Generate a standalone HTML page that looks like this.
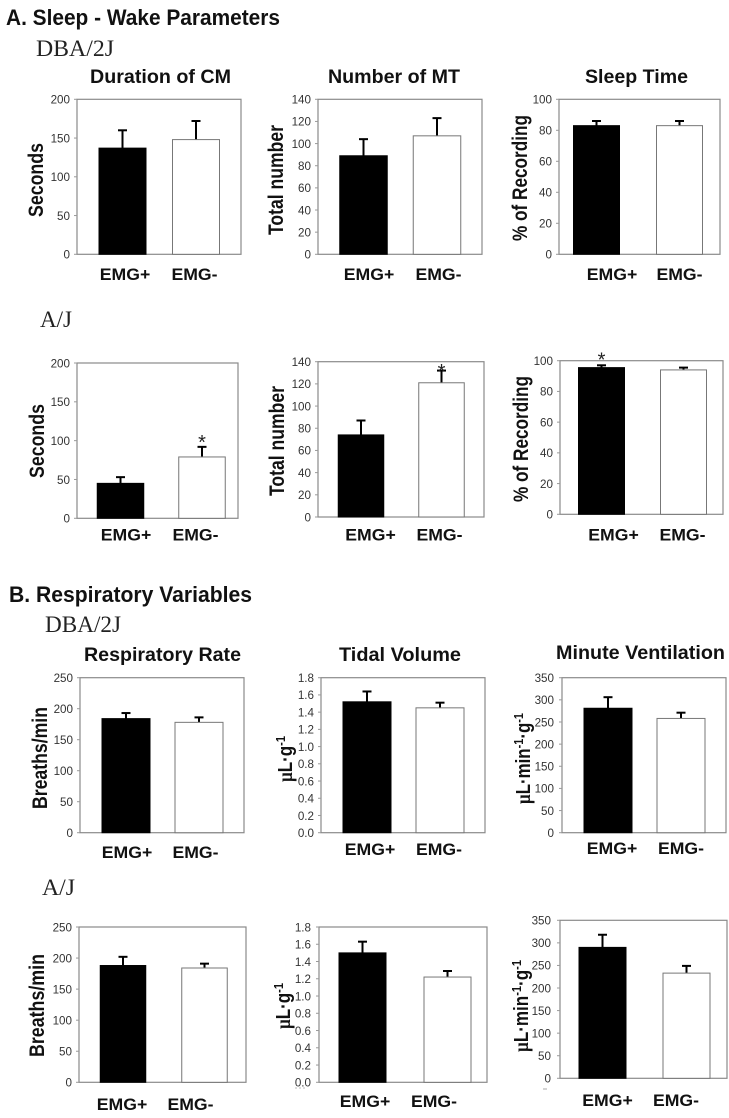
<!DOCTYPE html>
<html lang="en">
<head>
<meta charset="utf-8">
<title>Sleep-Wake Parameters and Respiratory Variables</title>
<style>
html,body{margin:0;padding:0;background:#fff;}
svg{display:block;filter:blur(.3px);}
.sec{font:bold 22px "Liberation Sans",sans-serif;fill:#111;}
.strain{font:23px "Liberation Serif",serif;fill:#222;}
.ttl{font:bold 19.5px "Liberation Sans",sans-serif;fill:#111;}
.yt{font:bold 21px "Liberation Sans",sans-serif;fill:#111;}
.yu{font:bold 20px "Liberation Sans",sans-serif;fill:#111;}
.mu{font-family:"Liberation Serif",serif;font-weight:bold;}
.sup{font-size:13px;}
.tick{font:12px "Liberation Sans",sans-serif;fill:#333;}
.cat{font:bold 16.5px "Liberation Sans",sans-serif;fill:#111;}
.star{font:20px "Liberation Sans",sans-serif;fill:#222;}
</style>
</head>
<body>
<svg id="figure" xmlns="http://www.w3.org/2000/svg" width="729" height="1118" viewBox="0 0 729 1118">
  <rect width="729" height="1118" fill="#fff"/>

  <text class="sec" x="6" y="25" textLength="274" lengthAdjust="spacingAndGlyphs">A. Sleep - Wake Parameters</text>
  <text class="strain" x="36" y="56" textLength="78" lengthAdjust="spacingAndGlyphs">DBA/2J</text>
  <text class="strain" x="40" y="327" textLength="32" lengthAdjust="spacingAndGlyphs">A/J</text>
  <text class="sec" x="9" y="602" textLength="243" lengthAdjust="spacingAndGlyphs">B. Respiratory Variables</text>
  <text class="strain" x="45" y="632" textLength="76" lengthAdjust="spacingAndGlyphs">DBA/2J</text>
  <text class="strain" x="42" y="895" textLength="33" lengthAdjust="spacingAndGlyphs">A/J</text>

  <g id="p1">
    <text class="ttl" x="90" y="83" textLength="141" lengthAdjust="spacingAndGlyphs">Duration of CM</text>
    <text class="yt" transform="translate(43,217) rotate(-90)" textLength="74" lengthAdjust="spacingAndGlyphs">Seconds</text>
  </g>
  <g id="p2">
    <text class="ttl" x="328" y="83" textLength="132" lengthAdjust="spacingAndGlyphs">Number of MT</text>
    <text class="yt" transform="translate(283,235) rotate(-90)" textLength="110" lengthAdjust="spacingAndGlyphs">Total number</text>
  </g>
  <g id="p3">
    <text class="ttl" x="585" y="83" textLength="103" lengthAdjust="spacingAndGlyphs">Sleep Time</text>
    <text class="yt" transform="translate(527,241) rotate(-90)" textLength="126" lengthAdjust="spacingAndGlyphs">% of Recording</text>
  </g>
  <g id="p4">
    <text class="yt" transform="translate(44,478) rotate(-90)" textLength="74" lengthAdjust="spacingAndGlyphs">Seconds</text>
  </g>
  <g id="p5">
    <text class="yt" transform="translate(284,496) rotate(-90)" textLength="110" lengthAdjust="spacingAndGlyphs">Total number</text>
  </g>
  <g id="p6">
    <text class="yt" transform="translate(528,502) rotate(-90)" textLength="126" lengthAdjust="spacingAndGlyphs">% of Recording</text>
  </g>
  <g id="p7">
    <text class="ttl" x="84" y="661" textLength="157" lengthAdjust="spacingAndGlyphs">Respiratory Rate</text>
    <text class="yt" transform="translate(47,809) rotate(-90)" textLength="102" lengthAdjust="spacingAndGlyphs">Breaths/min</text>
  </g>
  <g id="p8">
    <text class="ttl" x="339" y="661" textLength="122" lengthAdjust="spacingAndGlyphs">Tidal Volume</text>
    <text class="yu" transform="translate(292,782) rotate(-90)" textLength="46" lengthAdjust="spacingAndGlyphs"><tspan class="mu">µ</tspan>L·g<tspan class="sup" dy="-7">-1</tspan></text>
  </g>
  <g id="p9">
    <text class="ttl" x="556" y="659" textLength="169" lengthAdjust="spacingAndGlyphs">Minute Ventilation</text>
    <text class="yu" transform="translate(530,804) rotate(-90)" textLength="91" lengthAdjust="spacingAndGlyphs"><tspan class="mu">µ</tspan>L·min<tspan class="sup" dy="-7">-1</tspan><tspan dy="7">·g</tspan><tspan class="sup" dy="-7">-1</tspan></text>
  </g>
  <g id="p10">
    <text class="yt" transform="translate(44,1057) rotate(-90)" textLength="103" lengthAdjust="spacingAndGlyphs">Breaths/min</text>
  </g>
  <g id="p11">
    <text class="yu" transform="translate(290,1029) rotate(-90)" textLength="46" lengthAdjust="spacingAndGlyphs"><tspan class="mu">µ</tspan>L·g<tspan class="sup" dy="-7">-1</tspan></text>
    <line x1="295" x2="307" y1="1088" y2="1088" stroke="#bbb" stroke-width="1" stroke-dasharray="2 2"/>
  </g>
  <g id="p12">
    <text class="yu" transform="translate(528,1052) rotate(-90)" textLength="92" lengthAdjust="spacingAndGlyphs"><tspan class="mu">µ</tspan>L·min<tspan class="sup" dy="-7">-1</tspan><tspan dy="7">·g</tspan><tspan class="sup" dy="-7">-1</tspan></text>
    <line x1="543" x2="547" y1="1089" y2="1089" stroke="#aaa" stroke-width="1"/>
  </g>
</svg>

<script>
// ---- data ----
const categories = ["EMG+", "EMG-"];

const ticksSeconds = ["0", "50", "100", "150", "200"];
const ticksCount = ["0", "20", "40", "60", "80", "100", "120", "140"];
const ticksPercent = ["0", "20", "40", "60", "80", "100"];
const ticksRate = ["0", "50", "100", "150", "200", "250"];
const ticksTidal = ["0.0", "0.2", "0.4", "0.6", "0.8", "1.0", "1.2", "1.4", "1.6", "1.8"];
const ticksVent = ["0", "50", "100", "150", "200", "250", "300", "350"];

const durationDbaMeans = [137, 148];
const durationDbaErrTops = [160, 172];
const mtDbaMeans = [89, 107];
const mtDbaErrTops = [104, 123];
const sleepDbaMeans = [83, 83];
const sleepDbaErrTops = [86, 86];

const durationAjMeans = [45, 79];
const durationAjErrTops = [53, 92];
const mtAjMeans = [74, 121];
const mtAjErrTops = [87, 132];
const sleepAjMeans = [95.5, 94];
const sleepAjErrTops = [97, 95.5];

const rateDbaMeans = [184, 178];
const rateDbaErrTops = [193, 186];
const tidalDbaMeans = [1.52, 1.45];
const tidalDbaErrTops = [1.64, 1.51];
const ventDbaMeans = [281, 258];
const ventDbaErrTops = [306, 271];

const rateAjMeans = [188, 184];
const rateAjErrTops = [202, 191];
const tidalAjMeans = [1.5, 1.22];
const tidalAjErrTops = [1.63, 1.29];
const ventAjMeans = [290, 233];
const ventAjErrTops = [318, 249];

// ---- drawing ----
const NS = "http://www.w3.org/2000/svg";

function mk(parent, tag, attrs) {
  const el = document.createElementNS(NS, tag);
  for (const k in attrs) el.setAttribute(k, attrs[k]);
  parent.appendChild(el);
  return el;
}

function drawPanel(id, means, errTops, ticks, box) {
  const g = document.getElementById(id);
  const yMax = parseFloat(ticks[ticks.length - 1]);
  const yScale = v => box.bottom - (v / yMax) * (box.bottom - box.top);
  const barCenter = i => box.barFirst + i * box.barStep;
  const labelCenter = i => box.labelFirst + i * box.labelStep;
  const tickGap = box.tickGap || 7;

  const frame = mk(g, "rect", {x: box.left, y: box.top, width: box.right - box.left, height: box.bottom - box.top, fill: "#fff", stroke: "#8a8a8a", "stroke-width": 1.2});
  
  

  ticks.forEach(t => {
    const y = yScale(parseFloat(t));
    const mark = mk(g, "line", {x1: box.left - 3, x2: box.left, y1: y, y2: y, stroke: "#999", "stroke-width": 1});
    
    
    const label = mk(g, "text", {class: "tick", "text-anchor": "end", transform: "translate(" + (box.left - tickGap) + "," + (y + 4.3) + ") scale(.97,1)"});
    
    
    label.textContent = t;
  });

  categories.forEach((c, i) => {
    const cx = barCenter(i);
    const yTop = yScale(means[i]);
    const yErr = yScale(errTops[i]);
    const filled = i === 0;

    const stem = mk(g, "line", {x1: cx, x2: cx, y1: yTop, y2: yErr, stroke: "#000", "stroke-width": 2});
    
    
    const cap = mk(g, "line", {x1: cx - 4.5, x2: cx + 4.5, y1: yErr, y2: yErr, stroke: "#000", "stroke-width": 2});
    
    

    const bar = mk(g, "rect", {
      x: cx - box.barW / 2, y: yTop, width: box.barW, height: box.bottom - yTop,
      fill: filled ? "#000" : "#fff",
      stroke: filled ? "#000" : "#777",
      "stroke-width": 1
    });
    
    

    const label = mk(g, "text", {class: "cat", "text-anchor": "middle", transform: "translate(" + labelCenter(i) + "," + box.labelY + ") scale(1.07,1)"});
    
    
    label.textContent = c;

    if (box.star && box.star.index === i) {
      const star = mk(g, "text", {class: "star", "text-anchor": "middle", x: cx, y: yErr - box.star.gap + 11});
      
      
      star.textContent = "*";
    }
  });
}

drawPanel("p1", durationDbaMeans, durationDbaErrTops, ticksSeconds, {left: 77, right: 241, top: 99.3, bottom: 254.3, barFirst: 122.5, barStep: 73.5, barW: 47, labelFirst: 125, labelStep: 69.5, labelY: 280});
drawPanel("p2", mtDbaMeans, mtDbaErrTops, ticksCount, {left: 318, right: 482, top: 99.3, bottom: 254.3, barFirst: 363.5, barStep: 73.5, barW: 47.5, labelFirst: 369, labelStep: 69.5, labelY: 280});
drawPanel("p3", sleepDbaMeans, sleepDbaErrTops, ticksPercent, {left: 559, right: 720, top: 99.3, bottom: 254.3, barFirst: 596.5, barStep: 83, barW: 46, labelFirst: 612, labelStep: 67.5, labelY: 280});

drawPanel("p4", durationAjMeans, durationAjErrTops, ticksSeconds, {left: 77, right: 238, top: 363, bottom: 518.3, barFirst: 120.5, barStep: 81.5, barW: 46.5, labelFirst: 126, labelStep: 69.5, labelY: 540.7, star: {index: 1, gap: 9}});
drawPanel("p5", mtAjMeans, mtAjErrTops, ticksCount, {left: 318, right: 484, top: 361.7, bottom: 517, barFirst: 361, barStep: 80.5, barW: 45.5, labelFirst: 370.5, labelStep: 69, labelY: 540.7, star: {index: 1, gap: 3.5}});
drawPanel("p6", sleepAjMeans, sleepAjErrTops, ticksPercent, {left: 560, right: 723, top: 360.7, bottom: 514.3, barFirst: 601.5, barStep: 82, barW: 46, labelFirst: 613.5, labelStep: 69, labelY: 540.7, star: {index: 0, gap: 10}});

drawPanel("p7", rateDbaMeans, rateDbaErrTops, ticksRate, {left: 80, right: 244, top: 677.7, bottom: 832.7, barFirst: 126, barStep: 73, barW: 48, labelFirst: 127, labelStep: 68.5, labelY: 858});
drawPanel("p8", tidalDbaMeans, tidalDbaErrTops, ticksTidal, {left: 321, right: 485, top: 677.7, bottom: 832.7, barFirst: 367, barStep: 73, barW: 48, labelFirst: 370, labelStep: 69, labelY: 855});
drawPanel("p9", ventDbaMeans, ventDbaErrTops, ticksVent, {left: 562, right: 726, top: 677.7, bottom: 832.7, barFirst: 608, barStep: 73, barW: 48, labelFirst: 612, labelStep: 69, labelY: 854, tickGap: 8});

drawPanel("p10", rateAjMeans, rateAjErrTops, ticksRate, {left: 79, right: 246, top: 927, bottom: 1082.3, barFirst: 123, barStep: 81.5, barW: 45.5, labelFirst: 122, labelStep: 68.5, labelY: 1110});
drawPanel("p11", tidalAjMeans, tidalAjErrTops, ticksTidal, {left: 319, right: 487, top: 927, bottom: 1082.3, barFirst: 362.5, barStep: 85, barW: 47, labelFirst: 365, labelStep: 69, labelY: 1107, tickGap: 8});
drawPanel("p12", ventAjMeans, ventAjErrTops, ticksVent, {left: 560, right: 727, top: 920.3, bottom: 1078.3, barFirst: 602.5, barStep: 84, barW: 47, labelFirst: 607.5, labelStep: 68.5, labelY: 1106, tickGap: 9});
</script>
</body>
</html>
